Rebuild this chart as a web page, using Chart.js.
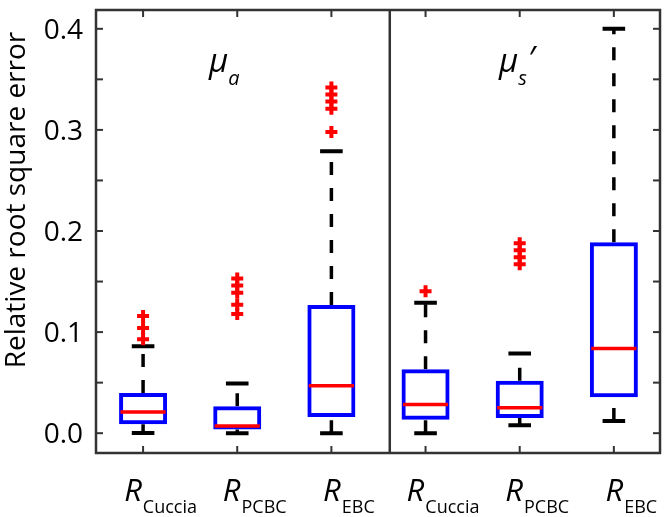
<!DOCTYPE html>
<html>
<head>
<meta charset="utf-8">
<script src="https://cdn.jsdelivr.net/npm/chart.js@4.4.0/dist/chart.umd.min.js"></script>
<style>
  html, body { margin: 0; padding: 0; background: #fff; }
</style>
</head>
<body>
<canvas id="boxChart" width="670" height="517"></canvas>
<script>
// Box plot statistics (two groups of three estimators)
const subscripts = ['Cuccia', 'PCBC', 'EBC', 'Cuccia', 'PCBC', 'EBC'];
const boxPositions = [1, 2, 3, 4, 5, 6];
const lowerWhisker = [0.0003, 0.0, 0.0, 0.0, 0.0078, 0.012];
const q1 = [0.0088, 0.0036, 0.0159, 0.0134, 0.0150, 0.0355];
const median = [0.0209, 0.0072, 0.0469, 0.0284, 0.0251, 0.0838];
const q3 = [0.0398, 0.0267, 0.1268, 0.0633, 0.0518, 0.1888];
const upperWhisker = [0.0861, 0.0492, 0.2790, 0.1290, 0.0789, 0.4000];
const outliers = [
  [0.116, 0.104, 0.093],
  [0.153, 0.146, 0.139, 0.127, 0.118],
  [0.342, 0.335, 0.328, 0.321, 0.298],
  [0.1405],
  [0.188, 0.181, 0.174, 0.167],
  []
];
const yTicks = [0.0, 0.1, 0.2, 0.3, 0.4];
const yMinorTicks = [0.0, 0.05, 0.1, 0.15, 0.2, 0.25, 0.3, 0.35, 0.4];
const groupDivider = 3.62;

const FONT = "'Open Sans', 'Noto Sans', 'DejaVu Sans', sans-serif";

// datasets built from the arrays above
const boxData = boxPositions.map((p, i) => ({ x: p, y: [q1[i], q3[i]] }));
const medianData = boxPositions.flatMap((p, i) => [
  { x: p - 0.24, y: median[i] }, { x: p + 0.24, y: median[i] }, { x: p, y: null }
]);
const whiskerData = boxPositions.flatMap((p, i) => [
  { x: p, y: q3[i] }, { x: p, y: upperWhisker[i] }, { x: p, y: null },
  { x: p, y: lowerWhisker[i] }, { x: p, y: q1[i] }, { x: p, y: null }
]);
const capData = boxPositions.flatMap((p, i) => [
  { x: p - 0.12, y: upperWhisker[i] }, { x: p + 0.12, y: upperWhisker[i] }, { x: p, y: null },
  { x: p - 0.12, y: lowerWhisker[i] }, { x: p + 0.12, y: lowerWhisker[i] }, { x: p, y: null }
]);
const outlierData = boxPositions.flatMap((p, i) => outliers[i].map(v => ({ x: p, y: v })));

// frame, inward ticks, labels and annotations
const decorations = {
  id: 'decorations',
  afterDraw(chart) {
    const { ctx, chartArea: a, scales: { x, y } } = chart;
    ctx.save();
    ctx.strokeStyle = '#333';
    ctx.lineWidth = 2.5;
    const seg = (x1, y1, x2, y2) => { ctx.beginPath(); ctx.moveTo(x1, y1); ctx.lineTo(x2, y2); ctx.stroke(); };

    ctx.strokeRect(a.left, a.top, a.right - a.left, a.bottom - a.top);
    const dx = x.getPixelForValue(groupDivider);
    seg(dx, a.top, dx, a.bottom);

    ctx.lineWidth = 2;
    yMinorTicks.forEach(v => {
      const py = y.getPixelForValue(v);
      seg(a.left, py, a.left + 7, py);
      seg(a.right - 7, py, a.right, py);
    });
    boxPositions.forEach(v => {
      const px = x.getPixelForValue(v);
      seg(px, a.bottom, px, a.bottom - 7);
      seg(px, a.top, px, a.top + 7);
    });

    // y tick labels
    ctx.fillStyle = '#000';
    ctx.font = '28px ' + FONT;
    ctx.textAlign = 'right';
    ctx.textBaseline = 'alphabetic';
    yTicks.forEach(v => {
      ctx.fillText(v.toFixed(1), a.left - 13, y.getPixelForValue(v) + 10);
    });

    // y title
    ctx.save();
    ctx.translate(17, 200);
    ctx.rotate(-Math.PI / 2);
    ctx.textAlign = 'center';
    ctx.textBaseline = 'middle';
    ctx.font = '28px ' + FONT;
    ctx.fillText('Relative root square error', 0, 0);
    ctx.restore();

    // x labels: italic R with subscript
    ctx.textAlign = 'left';
    boxPositions.forEach((p, i) => {
      const px = x.getPixelForValue(p);
      ctx.font = 'italic 31px ' + FONT;
      const wR = ctx.measureText('R').width;
      ctx.font = '18px ' + FONT;
      const wS = ctx.measureText(subscripts[i]).width;
      const left = px + 17 - (wR + wS) / 2;
      ctx.font = 'italic 31px ' + FONT;
      ctx.fillText('R', left, 501);
      ctx.font = '18px ' + FONT;
      ctx.fillText(subscripts[i], left + wR + 1, 513);
    });

    // group annotations
    const drawMu = (xv, sub, prime) => {
      const lx = x.getPixelForValue(xv);
      const by = y.getPixelForValue(0.357);
      ctx.font = 'italic 33px ' + FONT;
      ctx.fillText('μ', lx, by);
      const wm = ctx.measureText('μ').width;
      ctx.font = 'italic 20px ' + FONT;
      ctx.fillText(sub, lx + wm, by + 13);
      const ws = ctx.measureText(sub).width;
      if (prime) {
        ctx.font = 'italic 33px ' + FONT;
        ctx.fillText('′', lx + wm + ws + 1, by - 2);
      }
    };
    drawMu(1.7, 'a', false);
    drawMu(4.78, 's', true);
    ctx.restore();
  }
};

new Chart(document.getElementById('boxChart').getContext('2d'), {
  type: 'bar',
  data: {
    datasets: [
      {
        type: 'scatter',
        data: outlierData,
        pointStyle: 'cross',
        pointRadius: 6,
        borderWidth: 4,
        borderColor: '#ff0000',
        order: 0
      },
      {
        type: 'line',
        data: medianData,
        borderColor: '#ff0000',
        borderWidth: 3.5,
        pointRadius: 0,
        fill: false,
        order: 1
      },
      {
        type: 'bar',
        data: boxData,
        backgroundColor: 'rgba(0,0,0,0)',
        borderColor: '#0000ff',
        borderWidth: 4,
        borderSkipped: false,
        barPercentage: 0.51,
        categoryPercentage: 1,
        order: 2
      },
      {
        type: 'line',
        data: whiskerData,
        borderColor: '#000',
        borderWidth: 3.5,
        borderDash: [13, 13],
        pointRadius: 0,
        fill: false,
        order: 3
      },
      {
        type: 'line',
        data: capData,
        borderColor: '#000',
        borderWidth: 4,
        pointRadius: 0,
        fill: false,
        order: 3
      }
    ]
  },
  options: {
    responsive: false,
    animation: false,
    devicePixelRatio: 1,
    layout: { padding: { left: 96, right: 6, top: 5, bottom: 64 } },
    plugins: { legend: { display: false }, tooltip: { enabled: false } },
    scales: {
      x: {
        type: 'linear',
        display: false,
        offset: false,
        min: 0.5,
        max: 6.49,
        afterBuildTicks: s => { s.ticks = boxPositions.map(v => ({ value: v })); }
      },
      y: {
        type: 'linear',
        display: false,
        min: -0.0196,
        max: 0.4186
      }
    }
  },
  plugins: [decorations]
});
</script>
</body>
</html>
